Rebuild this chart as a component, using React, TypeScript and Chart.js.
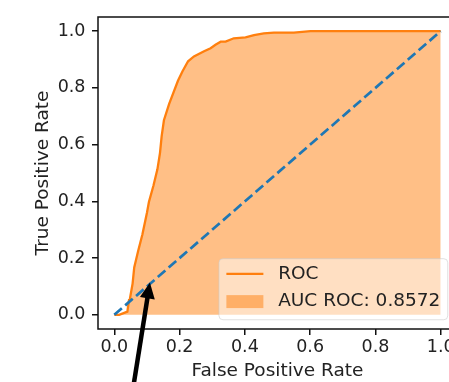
import React, { useEffect, useRef } from "react";
import { Chart, registerables } from "chart.js";

Chart.register(...registerables);

// ---- data ----
const fpr = [0, 0.015, 0.04, 0.045, 0.048, 0.056, 0.061, 0.073, 0.086, 0.1, 0.106, 0.12, 0.132, 0.14, 0.145, 0.152, 0.168, 0.195, 0.209, 0.226, 0.244, 0.275, 0.295, 0.31, 0.326, 0.341, 0.366, 0.402, 0.428, 0.458, 0.489, 0.55, 0.601, 1.0];
const tpr = [0, 0, 0.011, 0.052, 0.058, 0.11, 0.167, 0.225, 0.283, 0.36, 0.398, 0.456, 0.513, 0.571, 0.629, 0.686, 0.744, 0.825, 0.859, 0.894, 0.911, 0.929, 0.94, 0.952, 0.963, 0.963, 0.975, 0.978, 0.986, 0.992, 0.995, 0.995, 1.0, 1.0];
const chanceX = [0, 1];
const chanceY = [0, 1];
const xTicks = [0, 0.2, 0.4, 0.6, 0.8, 1.0];
const yTicks = [0, 0.2, 0.4, 0.6, 0.8, 1.0];
const rocLabel = "ROC";
const aucLabel = "AUC ROC: 0.8572";
const xTitle = "False Positive Rate";
const yTitle = "True Positive Rate";
const arrowTip = { x: 0.109, y: 0.114 };
const arrowTail = { x: 0.056, y: -0.27 };

const FONT = "'DejaVu Sans', 'Liberation Sans', sans-serif";
const TEXT = "#222";
const SPINE = "#111";

const framePlugin = {
  id: "mplFrame",
  afterDatasetsDraw(chart: any) {
    const { ctx, chartArea: a } = chart;
    ctx.save();
    ctx.strokeStyle = SPINE;
    ctx.lineWidth = 1.5;
    ctx.strokeRect(a.left, a.top, a.right - a.left, a.bottom - a.top);
    ctx.restore();
  },
};

const legendPlugin = {
  id: "mplLegend",
  afterDraw(chart: any) {
    const { ctx, chartArea } = chart;
    const f = 18.5;
    ctx.save();
    ctx.font = `${f}px ${FONT}`;
    const items = chart.data.datasets.filter((d: any) => d.label);
    const tw = Math.max(...items.map((d: any) => ctx.measureText(d.label).width));
    const pad = 0.4 * f, hl = 2 * f, hp = 0.8 * f, gap = 0.5 * f, rowH = f;
    const w = pad * 2 + hl + hp + tw;
    const h = pad * 2 + items.length * rowH + (items.length - 1) * gap;
    const right = chartArea.right - 0.5 * f;
    const bottom = chartArea.bottom - 0.5 * f;
    const left = right - w;
    const top = bottom - h;
    const r = 4;
    ctx.beginPath();
    ctx.moveTo(left + r, top);
    ctx.lineTo(right - r, top);
    ctx.quadraticCurveTo(right, top, right, top + r);
    ctx.lineTo(right, bottom - r);
    ctx.quadraticCurveTo(right, bottom, right - r, bottom);
    ctx.lineTo(left + r, bottom);
    ctx.quadraticCurveTo(left, bottom, left, bottom - r);
    ctx.lineTo(left, top + r);
    ctx.quadraticCurveTo(left, top, left + r, top);
    ctx.closePath();
    ctx.fillStyle = "rgba(255,255,255,0.5)";
    ctx.fill();
    ctx.strokeStyle = "rgba(204,204,204,0.6)";
    ctx.lineWidth = 1;
    ctx.stroke();
    items.forEach((d: any, i: number) => {
      const cy = top + pad + rowH / 2 + i * (rowH + gap) - 1.5;
      const hx = left + pad;
      if (d.fill) {
        ctx.fillStyle = d.backgroundColor;
        ctx.fillRect(hx, cy - 0.35 * f, hl, 0.7 * f);
      } else {
        ctx.strokeStyle = d.borderColor;
        ctx.lineWidth = d.borderWidth;
        ctx.beginPath();
        ctx.moveTo(hx, cy);
        ctx.lineTo(hx + hl, cy);
        ctx.stroke();
      }
      ctx.fillStyle = TEXT;
      ctx.textBaseline = "middle";
      ctx.textAlign = "left";
      ctx.fillText(d.label, hx + hl + hp, cy);
    });
    ctx.restore();
  },
};

const arrowPlugin = {
  id: "arrow",
  afterDraw(chart: any) {
    const { ctx, scales } = chart;
    const tx = scales.x.getPixelForValue(arrowTip.x);
    const ty = scales.y.getPixelForValue(arrowTip.y);
    const sx = scales.x.getPixelForValue(arrowTail.x);
    const sy = scales.y.getPixelForValue(arrowTail.y);
    const dx = tx - sx, dy = ty - sy;
    const len = Math.hypot(dx, dy);
    const ux = dx / len, uy = dy / len;
    const nx = -uy, ny = ux;
    const headL = 16, headW = 7.5;
    const bx = tx - ux * headL, by = ty - uy * headL;
    ctx.save();
    ctx.strokeStyle = "#000";
    ctx.fillStyle = "#000";
    ctx.lineWidth = 4.5;
    ctx.beginPath();
    ctx.moveTo(sx, sy);
    ctx.lineTo(bx + ux * 2, by + uy * 2);
    ctx.stroke();
    ctx.beginPath();
    ctx.moveTo(tx, ty);
    ctx.lineTo(bx + nx * headW, by + ny * headW);
    ctx.lineTo(bx - nx * headW, by - ny * headW);
    ctx.closePath();
    ctx.fill();
    ctx.restore();
  },
};

export default function App() {
  const ref = useRef<HTMLCanvasElement>(null);
  useEffect(() => {
    const canvas = ref.current!;
    const roc = fpr.map((x, i) => ({ x, y: tpr[i] }));
    const chance = chanceX.map((x, i) => ({ x, y: chanceY[i] }));
    const tickFont = { family: FONT, size: 17.5 };
    const titleFont = { family: FONT, size: 18.5 };
    const chart = new Chart(canvas, {
      type: "line",
      data: {
        datasets: [
          {
            label: "",
            data: chance,
            borderColor: "#1f77b4",
            borderWidth: 2.7,
            borderDash: [10, 4.4],
            pointRadius: 0,
            fill: false,
            order: 0,
          } as any,
          {
            label: rocLabel,
            data: roc,
            borderColor: "#ff7f0e",
            borderWidth: 2.3,
            pointRadius: 0,
            fill: false,
            order: 1,
          },
          {
            label: aucLabel,
            data: roc,
            borderColor: "rgba(255,127,14,0)",
            borderWidth: 0,
            backgroundColor: "rgba(255,127,14,0.5)",
            pointRadius: 0,
            fill: "origin",
            order: 2,
          },
        ],
      },
      options: {
        responsive: false,
        animation: false,
        devicePixelRatio: 1,
        layout: { padding: { left: 0, top: 11, right: 13, bottom: 0 } },
        plugins: { legend: { display: false }, tooltip: { enabled: false } },
        scales: {
          x: {
            type: "linear",
            min: -0.05,
            max: 1.05,
            afterBuildTicks: (s: any) => {
              s.ticks = xTicks.map((v) => ({ value: v }));
            },
            afterFit: (s: any) => {
              s.height = 53;
            },
            ticks: {
              callback: (v: any) => Number(v).toFixed(1),
              font: tickFont,
              color: TEXT,
              padding: 2,
              maxRotation: 0,
              autoSkip: false,
            },
            grid: { drawOnChartArea: false, drawTicks: true, tickLength: 6, color: SPINE, lineWidth: 1.5 },
            border: { display: false },
            title: { display: true, text: xTitle, font: titleFont, color: TEXT, padding: { top: 0, bottom: 0 } },
          },
          y: {
            type: "linear",
            min: -0.05,
            max: 1.05,
            afterBuildTicks: (s: any) => {
              s.ticks = yTicks.map((v) => ({ value: v }));
            },
            afterFit: (s: any) => {
              s.width = 98;
            },
            ticks: {
              callback: (v: any) => Number(v).toFixed(1),
              font: tickFont,
              color: TEXT,
              padding: 6.5,
              autoSkip: false,
            },
            grid: { drawOnChartArea: false, drawTicks: true, tickLength: 6, color: SPINE, lineWidth: 1.5 },
            border: { display: false },
            title: { display: true, text: yTitle, font: titleFont, color: TEXT, padding: { top: 32.5, bottom: 0 } },
          },
        },
      },
      plugins: [framePlugin, legendPlugin, arrowPlugin],
    });
    return () => chart.destroy();
  }, []);
  return (
    <div
      style={{
        position: "fixed",
        left: 0,
        top: 0,
        width: 449,
        height: 382,
        overflow: "hidden",
        background: "#fff",
      }}
    >
      <canvas ref={ref} width={470} height={382} style={{ display: "block", width: 470, height: 382 }} />
    </div>
  );
}
